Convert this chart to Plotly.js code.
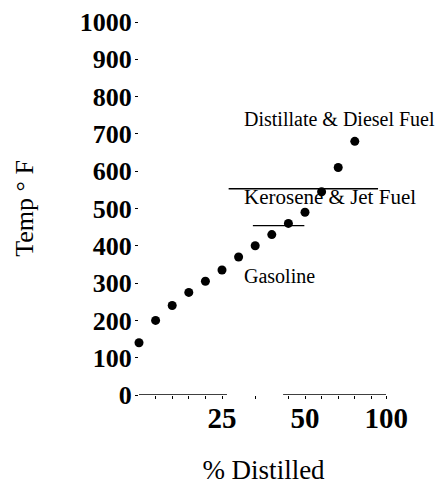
<!DOCTYPE html>
<html>
<head>
<meta charset="utf-8">
<script src="https://cdn.plot.ly/plotly-3.0.1.min.js"></script>
<style>html,body{margin:0;padding:0;background:#fff;}#chart{width:436px;height:485px;}</style>
</head>
<body>
<div id="chart"></div>
<script>
// Data
var pctDistilled = [0, 5, 10, 15, 20, 25, 30, 35, 40, 45, 50, 55, 60, 65];
var tempF = [140, 200, 240, 275, 305, 335, 370, 400, 430, 460, 490, 545, 610, 680];

// Boundary lines between fuel cuts
var keroseneTopX = [27, 72];
var keroseneTopY = [553, 553];
var gasolineTopX = [34.3, 49.8];
var gasolineTopY = [454, 454];

// Labels
var cutLabels = ['Distillate & Diesel Fuel', 'Kerosene & Jet Fuel', 'Gasoline'];
var cutLabelX = [30.9, 30.9, 30.9];
var cutLabelY = [741, 532, 318];
var cutLabelSize = [20, 21, 20];

// Tick labels
var xTickVals = [25, 50, 74.5];
var xTickText = ['25', '50', '100'];
var xMinorTicks = [5, 10, 15, 20, 35, 45, 55, 60, 65, 70];
var yTickVals = [0, 100, 200, 300, 400, 500, 600, 700, 800, 900, 1000];

// Axis line segments (scan has a gap)
var axisSeg1 = [0, 26.5];
var axisSeg2 = [43.4, 74.4];

var serif = 'Liberation Serif, Times New Roman, serif';

var traces = [
  {x: keroseneTopX, y: keroseneTopY, mode: 'lines', line: {color: '#000', width: 1.3}, hoverinfo: 'skip', showlegend: false},
  {x: gasolineTopX, y: gasolineTopY, mode: 'lines', line: {color: '#000', width: 1.3}, hoverinfo: 'skip', showlegend: false},
  {x: pctDistilled, y: tempF, mode: 'markers', marker: {color: '#000', size: 9}, cliponaxis: false, showlegend: false}
];

var annotations = cutLabels.map(function (t, i) {
  return {x: cutLabelX[i], y: cutLabelY[i], xref: 'x', yref: 'y', text: t, showarrow: false,
    xanchor: 'left', yanchor: 'middle', font: {family: serif, size: cutLabelSize[i], color: '#000'}};
});

var shapes = [axisSeg1, axisSeg2].map(function (s) {
  return {type: 'line', xref: 'x', yref: 'y', x0: s[0], x1: s[1], y0: 0, y1: 0, line: {color: '#000', width: 1.5}};
});

var layout = {
  width: 436, height: 485,
  margin: {l: 139, r: 48, t: 22, b: 90},
  paper_bgcolor: '#fff', plot_bgcolor: '#fff',
  showlegend: false,
  font: {family: serif, color: '#000'},
  xaxis: {
    range: [0, 75], showgrid: false, zeroline: false, showline: false,
    tickmode: 'array', tickvals: xTickVals, ticktext: xTickText,
    ticks: 'outside', ticklen: 3, tickwidth: 1, tickcolor: '#000',
    ticklabelstandoff: -6,
    tickfont: {family: serif, size: 29, color: '#000', weight: 'bold'},
    minor: {tickmode: 'array', tickvals: xMinorTicks, ticks: 'outside', ticklen: 3, tickwidth: 1, tickcolor: '#000'},
    title: {text: '% Distilled', font: {family: serif, size: 27, color: '#000'}, standoff: 28},
    automargin: false
  },
  yaxis: {
    range: [0, 1000], showgrid: false, zeroline: false, showline: false,
    tickmode: 'array', tickvals: yTickVals,
    ticks: 'outside', ticklen: 3, tickwidth: 1, tickcolor: '#000',
    ticklabelstandoff: -2,
    tickfont: {family: serif, size: 26, color: '#000', weight: 'bold'},
    title: {text: 'Temp ° F', font: {family: serif, size: 26, color: '#000'}, standoff: 38},
    automargin: false
  },
  shapes: shapes,
  annotations: annotations
};

Plotly.newPlot('chart', traces, layout, {displayModeBar: false, staticPlot: true});
</script>
</body>
</html>
